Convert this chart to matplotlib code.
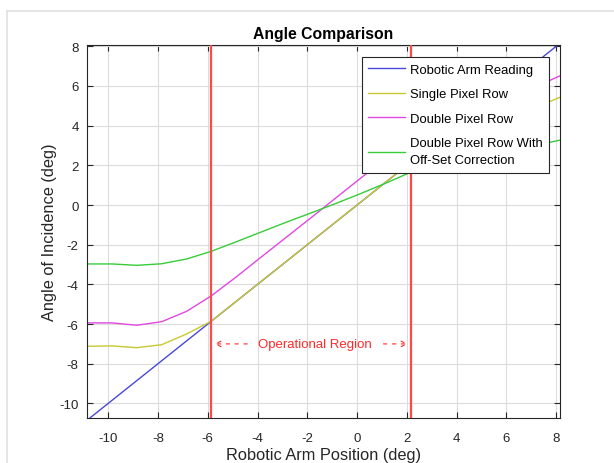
import matplotlib.pyplot as plt
from matplotlib.lines import Line2D


ARM_POS = [-10.85, -9.85, -8.85, -7.85, -6.85, -5.85, -4.85, -3.85, -2.85, -1.85,
           -0.85, 0.15, 1.15, 2.15, 3.15, 4.15, 5.15, 6.15, 7.15, 8.15]
ARM_READING = [-10.85, -9.85, -8.85, -7.85, -6.85, -5.85, -4.85, -3.85, -2.85, -1.85,
               -0.85, 0.15, 1.15, 2.15, 3.15, 4.15, 5.15, 6.15, 7.15, 8.15]
SINGLE_ROW = [-7.12, -7.10, -7.19, -7.04, -6.50, -5.85, -4.85, -3.85, -2.85, -1.85,
              -0.85, 0.15, 1.15, 2.15, 2.70, 3.25, 3.80, 4.35, 4.90, 5.43]
DOUBLE_ROW = [-5.94, -5.94, -6.06, -5.88, -5.36, -4.57, -3.62, -2.62, -1.63, -0.64,
              0.36, 1.36, 2.35, 3.00, 3.60, 4.20, 4.80, 5.40, 5.95, 6.51]
DOUBLE_CORR = [-2.97, -2.97, -3.04, -2.96, -2.72, -2.33, -1.85, -1.36, -0.87, -0.40,
               0.08, 0.58, 1.10, 1.65, 1.95, 2.25, 2.50, 2.75, 3.00, 3.27]

REGION_BOUNDS = [-5.85, 2.15]
REGION_LABEL_Y = -7.0

LABELS = ["Robotic Arm Reading", "Single Pixel Row", "Double Pixel Row",
          "Double Pixel Row With\nOff-Set Correction"]


def main() -> None:
    plt.rcParams.update({
        "font.family": ["Liberation Sans", "DejaVu Sans"],
        "axes.unicode_minus": False,
        "axes.edgecolor": "#262626",
        "xtick.color": "#262626",
        "ytick.color": "#262626",
        "xtick.direction": "in",
        "ytick.direction": "in",
        "xtick.top": True,
        "ytick.right": True,
    })

    fig = plt.figure(figsize=(6.14, 4.64), dpi=100)
    ax = fig.add_axes([0.1417, 0.0963, 0.7703, 0.8052])

    # faint screenshot frame
    fig.add_artist(Line2D([6.5 / 614, 6.5 / 614], [0, 1 - 12 / 464], color="#e2e2e2", lw=1.2))
    fig.add_artist(Line2D([6.5 / 614, 1], [1 - 12 / 464, 1 - 12 / 464], color="#e2e2e2", lw=1.2))

    colors = ["#4848d8", "#c8c830", "#e048e0", "#38cc38"]
    series = [ARM_READING, SINGLE_ROW, DOUBLE_ROW, DOUBLE_CORR]
    for ys, c, lab in zip(series, colors, LABELS):
        ax.plot(ARM_POS, ys, color=c, lw=1.0, label=lab)

    for xb in REGION_BOUNDS:
        ax.axvline(xb, color="#ff4848", lw=1.6, zorder=3)

    mid = (REGION_BOUNDS[0] + REGION_BOUNDS[1]) / 2 + 0.15
    ax.text(mid, REGION_LABEL_Y, "Operational Region", color="#ff2a2a", fontsize=9.5,
            ha="center", va="center", zorder=4)
    arrow = dict(arrowstyle="->", color="#ff2a2a", lw=0.8, linestyle=(0, (3, 5)))
    ax.annotate("", xy=(REGION_BOUNDS[0], REGION_LABEL_Y), xytext=(-4.3, REGION_LABEL_Y),
                arrowprops=arrow, zorder=4)
    ax.annotate("", xy=(REGION_BOUNDS[1], REGION_LABEL_Y), xytext=(0.95, REGION_LABEL_Y),
                arrowprops=arrow, zorder=4)

    ax.set_xlim(ARM_POS[0], ARM_POS[-1])
    ax.set_ylim(-10.75, 8.08)
    ax.set_xticks(range(-10, 9, 2))
    ax.set_yticks(range(-10, 9, 2))
    ax.tick_params(labelsize=9.5, length=4, width=0.8)
    ax.tick_params(axis="x", pad=10)
    ax.tick_params(axis="y", pad=6)
    ax.grid(True, color="#dcdcdc", lw=0.8)
    ax.set_axisbelow(True)

    ax.set_title("Angle Comparison", fontsize=11.3, fontweight="bold", pad=5)
    ax.set_xlabel("Robotic Arm Position (deg)", fontsize=11.8, color="#262626", labelpad=2)
    ax.set_ylabel("Angle of Incidence (deg)", fontsize=11.8, color="#262626", labelpad=2)

    leg = ax.legend(loc="upper right", bbox_to_anchor=(0.977, 0.967), fontsize=9.4,
                    fancybox=False, framealpha=1, edgecolor="#262626",
                    handlelength=2.8, handletextpad=0.4, borderpad=0.5, labelspacing=0.95,
                    borderaxespad=0)
    for t in leg.get_texts():
        t.set_linespacing(1.55)
    leg.get_frame().set_linewidth(0.8)
    leg.set_zorder(5)

    fig.savefig("out.png", dpi=100)


if __name__ == "__main__":
    main()
